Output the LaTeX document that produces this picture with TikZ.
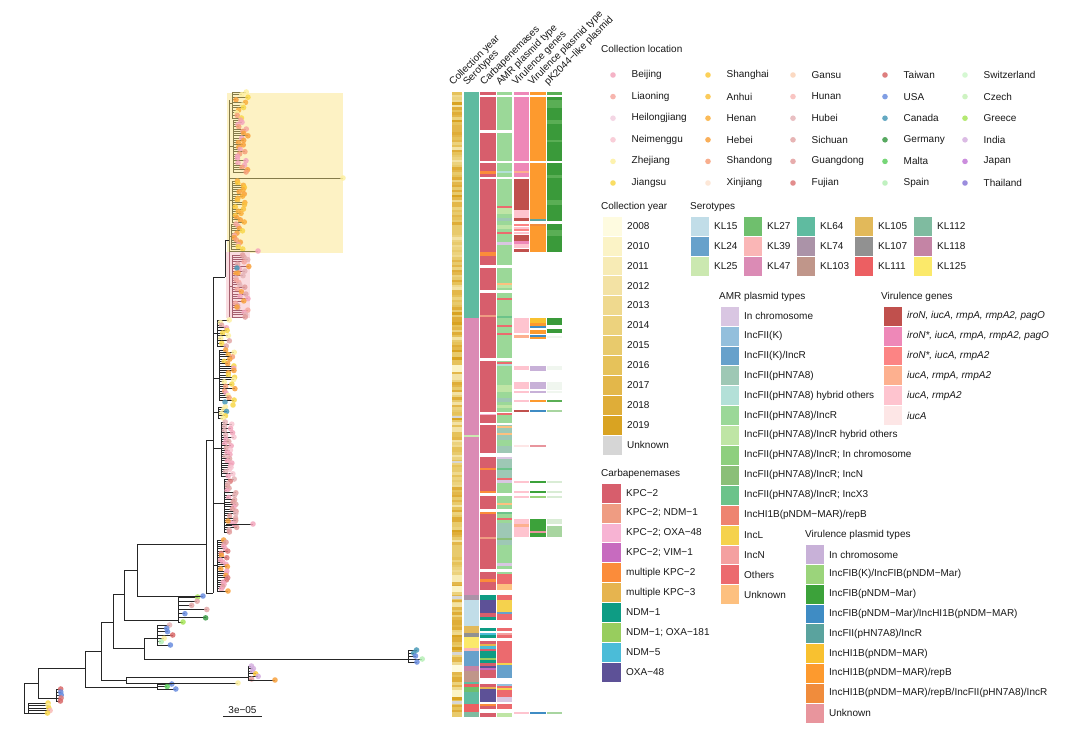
\documentclass[tikz,border=0pt]{standalone}
\usepackage{fontspec}
\setmainfont{Liberation Sans}
% location colours
\definecolor{cBeijing}{HTML}{F4A6BD}\definecolor{cLiaoning}{HTML}{F6A9A0}\definecolor{cHeilongjiang}{HTML}{F3CFE0}
\definecolor{cNeimenggu}{HTML}{F8C6D2}\definecolor{cZhejiang}{HTML}{FDF0A0}\definecolor{cJiangsu}{HTML}{F9D84A}
\definecolor{cShanghai}{HTML}{FCC93C}\definecolor{cAnhui}{HTML}{FBC23F}\definecolor{cHenan}{HTML}{FBB03B}
\definecolor{cHebei}{HTML}{F9A23E}\definecolor{cShandong}{HTML}{F7A07A}\definecolor{cXinjiang}{HTML}{FDE3D0}
\definecolor{cGansu}{HTML}{FBD3B8}\definecolor{cHunan}{HTML}{F9BBB8}\definecolor{cHubei}{HTML}{E6B4B8}
\definecolor{cSichuan}{HTML}{E3A8A8}\definecolor{cGuangdong}{HTML}{E39E9E}\definecolor{cFujian}{HTML}{DD7A7A}
\definecolor{cTaiwan}{HTML}{D96868}\definecolor{cUSA}{HTML}{6A8EE0}\definecolor{cCanada}{HTML}{4A9AB8}
\definecolor{cGermany}{HTML}{3A9A45}\definecolor{cMalta}{HTML}{5FCF60}\definecolor{cSpain}{HTML}{B5EFB5}
\definecolor{cSwitzerland}{HTML}{CEF7CB}\definecolor{cCzech}{HTML}{C6F2B8}\definecolor{cGreece}{HTML}{A8E65A}
\definecolor{cIndia}{HTML}{D5B0E0}\definecolor{cJapan}{HTML}{C27AD8}\definecolor{cThailand}{HTML}{8A7AD8}
% years
\definecolor{y08}{HTML}{FEFBE0}\definecolor{y10}{HTML}{FBF3C6}\definecolor{y11}{HTML}{F7EBB5}\definecolor{y12}{HTML}{F3E2A4}
\definecolor{y13}{HTML}{EFD98E}\definecolor{y14}{HTML}{ECD27D}\definecolor{y15}{HTML}{E8CA6C}\definecolor{y16}{HTML}{E6C25A}
\definecolor{y17}{HTML}{E3B74A}\definecolor{y18}{HTML}{DFAD38}\definecolor{y19}{HTML}{D9A322}\definecolor{yUn}{HTML}{D6D6D6}
% serotypes
\definecolor{s15}{HTML}{C1DDE8}\definecolor{s24}{HTML}{67A1CB}\definecolor{s25}{HTML}{CBE8B0}
\definecolor{s27}{HTML}{6FBF6D}\definecolor{s39}{HTML}{FAB6B6}\definecolor{s47}{HTML}{DB8BB5}
\definecolor{s64}{HTML}{5FBBA0}\definecolor{s74}{HTML}{AB93A8}\definecolor{s103}{HTML}{C0968A}
\definecolor{s105}{HTML}{E2B95A}\definecolor{s107}{HTML}{919191}\definecolor{s111}{HTML}{EC5F62}
\definecolor{s112}{HTML}{7FBBA0}\definecolor{s118}{HTML}{C484A5}\definecolor{s125}{HTML}{FBE96A}
% carbapenemases
\definecolor{kpc}{HTML}{D75E6C}\definecolor{kn1}{HTML}{EF9C82}\definecolor{kox}{HTML}{F7B3D3}\definecolor{kvim}{HTML}{C76BBF}
\definecolor{mk2}{HTML}{FB8C3A}\definecolor{mk3}{HTML}{E6B44F}\definecolor{ndm1}{HTML}{0E9C84}\definecolor{nox}{HTML}{98CD5E}
\definecolor{ndm5}{HTML}{4BBCD8}\definecolor{oxa}{HTML}{5D5197}
% AMR
\definecolor{aChr}{HTML}{D9C6E2}\definecolor{aK}{HTML}{93BFDC}\definecolor{aKR}{HTML}{67A1CB}\definecolor{aP}{HTML}{9EC8B5}
\definecolor{aPh}{HTML}{B3E0D8}\definecolor{aPR}{HTML}{9BD898}\definecolor{aPRh}{HTML}{BFE5A5}\definecolor{aPRc}{HTML}{8ECF7E}
\definecolor{aPRN}{HTML}{8BBF78}\definecolor{aPRX}{HTML}{6CC38A}\definecolor{aHI}{HTML}{EE8470}\definecolor{aL}{HTML}{F5D24D}
\definecolor{aN}{HTML}{F4A0A0}\definecolor{aO}{HTML}{EC6A6E}\definecolor{aU}{HTML}{FDC07F}
% virulence genes
\definecolor{vg1}{HTML}{C0504D}\definecolor{vg2}{HTML}{EE88B8}\definecolor{vg3}{HTML}{FC8484}
\definecolor{vg4}{HTML}{FDB08F}\definecolor{vg5}{HTML}{FEC4CF}\definecolor{vg6}{HTML}{FDE6E6}
% virulence plasmid types
\definecolor{vpChr}{HTML}{C8B1D8}\definecolor{vpK}{HTML}{9BD47B}\definecolor{vpFIB}{HTML}{3CA23A}
\definecolor{vpFIBHI}{HTML}{3F8CC4}\definecolor{vpFII}{HTML}{5AA39E}\definecolor{vpHI}{HTML}{F8C130}
\definecolor{vpHIrep}{HTML}{FD9A2E}\definecolor{vpHIrepFII}{HTML}{F08C3C}\definecolor{vpUnk}{HTML}{E8959D}
% pK2044
\definecolor{pk1}{HTML}{3A9A3A}\definecolor{pk2}{HTML}{5AAE55}\definecolor{pk3}{HTML}{A8D5A0}
\definecolor{pk4}{HTML}{D9ECD5}\definecolor{pk5}{HTML}{F0F6EF}
% misc
\definecolor{hlY}{HTML}{FDF2C4}\definecolor{hlP}{HTML}{FADCE0}
\definecolor{olive}{HTML}{857B4A}\definecolor{dpink}{HTML}{A5606E}

\tikzset{
  txt/.style={font=\fontsize{10}{12}\selectfont, inner sep=0pt, anchor=west, text=black!90},
  br/.style={line width=0.8pt, black!85},
  bry/.style={line width=0.8pt, olive},
  brp/.style={line width=0.8pt, dpink},
}
% tips: xbase y1 y2 n minlen range list style
\newcommand{\tips}[8]{%
  \pgfmathsetmacro\tdy{(#3-#2)/(#4-1)}%
  \draw[#8] (#1,#2) -- (#1,#3);%
  \foreach \k in {1,...,#4}{%
    \pgfmathsetmacro\yy{#2+(\k-1)*\tdy}%
    \pgfmathsetmacro\xx{#1+#5+rnd*#6}%
    \pgfmathrandomitem{\cc}{#7}%
    \draw[#8] (#1,\yy) -- (\xx,\yy);%
    \fill[fill=\cc,opacity=.85] (\xx,\yy) circle (2.8pt);%
  }%
}
\newcommand{\tipdot}[3]{\fill[fill=#3,opacity=.85] (#1,#2) circle (2.8pt);}
\newcommand{\hmcell}[5]{\fill[fill=#5] (#1,#3) rectangle (#2,#4);}
\newcommand{\hST}[3]{\hmcell{464}{479}{#1}{#2}{#3}}
\newcommand{\hCB}[3]{\hmcell{480}{496}{#1}{#2}{#3}}
\newcommand{\hAM}[3]{\hmcell{497}{512}{#1}{#2}{#3}}
\newcommand{\hVG}[3]{\hmcell{513.5}{529}{#1}{#2}{#3}}
\newcommand{\hVP}[3]{\hmcell{530}{546}{#1}{#2}{#3}}
\newcommand{\hPK}[3]{\hmcell{547}{562}{#1}{#2}{#3}}
% legend square: x ytop width colour label
\newcommand{\legsq}[5]{%
  \path[fill=#4,draw=white,line width=.5pt] (#1,#2) rectangle ++(#3,19.9);%
  \node[txt] at (#1+#3+5,#2+9.95) {#5};}

\pgfmathdeclarerandomlist{lA}{{cJiangsu}{cShandong}{cHunan}{cZhejiang}}
\pgfmathdeclarerandomlist{lB}{{cTaiwan}{cTaiwan}{cFujian}{cUSA}}
\pgfmathdeclarerandomlist{lC}{{cUSA}{cMalta}}
\pgfmathdeclarerandomlist{lD}{{cJiangsu}{cShanghai}{cIndia}{cHenan}{cGuangdong}}
\pgfmathdeclarerandomlist{lE}{{cZhejiang}{cUSA}{cTaiwan}{cSpain}{cUSA}{cHubei}{cJiangsu}}
\pgfmathdeclarerandomlist{lF}{{cCanada}{cUSA}{cSpain}{cMalta}}
\pgfmathdeclarerandomlist{lG}{{cUSA}{cMalta}{cGermany}{cGreece}{cIndia}{cSichuan}}
\pgfmathdeclarerandomlist{lY1}{{cHebei}{cJiangsu}{cHenan}{cZhejiang}{cShandong}}
\pgfmathdeclarerandomlist{lY2}{{cShandong}{cShandong}{cBeijing}{cHebei}{cLiaoning}}
\pgfmathdeclarerandomlist{lY3}{{cHenan}{cHebei}{cAnhui}{cShanghai}{cHenan}}
\pgfmathdeclarerandomlist{lY4}{{cBeijing}{cShandong}{cHebei}{cJiangsu}{cLiaoning}}
\pgfmathdeclarerandomlist{lP}{{cGuangdong}{cBeijing}{cSichuan}{cLiaoning}{cHubei}{cHebei}}
\pgfmathdeclarerandomlist{lK1}{{cZhejiang}{cJiangsu}{cSichuan}{cBeijing}}
\pgfmathdeclarerandomlist{lK2}{{cHebei}{cHenan}{cZhejiang}{cJiangsu}{cBeijing}{cShandong}}
\pgfmathdeclarerandomlist{lK3}{{cCanada}{cJiangsu}{cJapan}{cTaiwan}{cZhejiang}}
\pgfmathdeclarerandomlist{lK4}{{cBeijing}{cBeijing}{cNeimenggu}{cHubei}{cSichuan}}
\pgfmathdeclarerandomlist{lK5}{{cGuangdong}{cSichuan}{cHubei}{cBeijing}{cFujian}}
\pgfmathdeclarerandomlist{lK6}{{cFujian}{cGuangdong}{cBeijing}{cBeijing}{cHebei}}
\pgfmathdeclarerandomlist{yr}{{y13}{y14}{y15}{y15}{y16}{y16}{y17}{y17}{y18}{y18}{y19}{y14}{y13}{y12}{y16}{y17}{y15}{y18}}

\begin{document}
\begin{tikzpicture}[x=1pt,y=-1pt]
\pgfmathsetseed{4242}
\useasboundingbox (0,0) rectangle (1080,734);
\fill[white] (0,0) rectangle (1080,734);

% ---------- highlight boxes
\fill[hlY] (227,93) rectangle (343,253);
\fill[hlP] (226,252) rectangle (250,318);

% ---------- tree (outgroups)
\draw[br] (24,683) -- (24,713);
\draw[br] (24,713) -- (28,713);
\tips{28}{703}{713}{5}{18}{7}{lA}{br}
\draw[br] (24,683) -- (38,683);
\draw[br] (38,668) -- (38,698);
\draw[br] (38,698) -- (56,698);
\tips{56}{689}{701}{5}{3}{5}{lB}{br}
\draw[br] (38,668) -- (85,668);
\draw[br] (85,651) -- (85,687);
\draw[br] (85,687) -- (157,687);
\tips{157}{684}{689}{3}{10}{10}{lC}{br}
\draw[br] (85,651) -- (101,651);
\draw[br] (101,622) -- (101,680);
\draw[br] (101,680) -- (126,680);
\draw[br] (126,677) -- (126,683);
\draw[br] (126,677) -- (248,677);
\tips{248}{666}{679}{6}{3}{8}{lD}{br}
\draw[br] (248,680) -- (275,680); \tipdot{275}{680}{cHebei}
\draw[br] (126,683) -- (238,683); \tipdot{238}{683}{cZhejiang}
\draw[br] (101,622) -- (113,622);
\draw[br] (113,594) -- (113,648);
\draw[br] (113,648) -- (144,648);
\draw[br] (144,638) -- (144,659);
\draw[br] (144,638) -- (157,638);
\tips{157}{625}{645}{7}{3}{14}{lE}{br}
\draw[br] (144,659) -- (408,659);
\tips{408}{650}{662}{5}{5}{12}{lF}{br}
\draw[br] (113,594) -- (124,594);
\draw[br] (124,570) -- (124,620);
\draw[br] (124,620) -- (178,620);
\tips{178}{597}{622}{7}{5}{25}{lG}{br}
\draw[br] (124,570) -- (137,570);
\draw[br] (137,544) -- (137,596);
\draw[br] (137,596) -- (203,596); \tipdot{203}{596}{cUSA}
\draw[br] (137,544) -- (206,544);
% ---------- main clade
\draw[br] (206,440) -- (206,593);
\draw[br] (206,593) -- (213,593);
\draw[br] (206,440) -- (213,440);
\draw[br] (213,277) -- (213,593);
\draw[br] (213,277) -- (225,277);
\draw[br] (225,240) -- (225,277);
\draw[br] (225,240) -- (229,240);
\draw[bry] (229,100) -- (229,251);
\draw[brp] (229,251) -- (229,317);
% yellow clade
\draw[bry] (229,103) -- (232,103); \tips{232}{92}{118}{11}{4}{12}{lY1}{bry}
\draw[bry] (229,146) -- (233,146); \tips{233}{120}{172}{24}{3}{12}{lY2}{bry}
\draw[bry] (229,178) -- (343,178); \tipdot{343}{178}{cZhejiang}
\draw[bry] (229,200) -- (232,200); \tips{232}{181}{222}{20}{3}{10}{lY3}{bry}
\draw[bry] (229,236) -- (231,236); \tips{231}{224}{249}{12}{3}{10}{lY4}{bry}
\draw[bry] (229,251) -- (258,251); \tipdot{258}{251}{cBeijing}
% pink clade
\draw[brp] (229,286) -- (232,286); \tips{232}{255}{317}{28}{3}{14}{lP}{brp}
\tipdot{237}{268}{cCanada}\tipdot{238}{273}{cHebei}\tipdot{237}{307}{cHebei}
% black part
\draw[br] (213,333) -- (217,333); \tips{217}{320}{346}{11}{3}{10}{lK1}{br}
\draw[br] (213,378) -- (219,378); \tips{219}{350}{400}{23}{3}{13}{lK2}{br}
\tipdot{225}{402}{cCanada}\tipdot{233}{405}{cJiangsu}
\draw[br] (213,412) -- (218,412); \tips{218}{407}{418}{6}{3}{8}{lK3}{br}
\draw[br] (213,448) -- (221,448); \tips{221}{422}{476}{26}{3}{10}{lK4}{br}
\draw[br] (213,503) -- (224,503); \tips{224}{479}{532}{24}{3}{10}{lK5}{br}
\draw[br] (226,524) -- (253,524); \tipdot{253}{524}{cBeijing}\tipdot{228}{521}{cHebei}
\draw[br] (213,565) -- (217,565); \tips{217}{540}{591}{24}{3}{8}{lK6}{br}
% scale bar
\draw[br] (223,716.5) -- (262,716.5);
\node[txt,anchor=base] (scale) at (242.5,713.5) {3e−05};

% ---------- heatmap: collection year
\foreach \r in {0,...,249}{%
  \pgfmathsetmacro\ya{92+\r*2.5}%
  \pgfmathrandomitem{\cc}{yr}%
  \fill[fill=\cc] (452,\ya) rectangle (462,\ya+2.5);}
\fill[y10] (452,365) rectangle (462,372);\fill[y12] (452,374) rectangle (462,380);
\fill[yUn] (452,416) rectangle (462,418);\fill[yUn] (452,461) rectangle (462,463);
\fill[y11] (452,575) rectangle (462,582);\fill[y10] (452,586) rectangle (462,592);
\fill[yUn] (452,596) rectangle (462,599);\fill[y12] (452,603) rectangle (462,607);
\fill[yUn] (452,652) rectangle (462,655);\fill[y08] (452,665) rectangle (462,672);
\fill[y10] (452,690) rectangle (462,697);\fill[yUn] (452,701) rectangle (462,704);
% serotypes
\hST{92}{318}{s64}\hST{318}{595}{s47}\hST{435}{437}{s25}\hST{595}{600}{s74}\hST{600}{626}{s15}
\hST{626}{633}{s105}\hST{633}{637}{s107}\hST{637}{648}{s125}\hST{648}{651}{s39}\hST{651}{666}{s24}
\hST{666}{671}{s118}\hST{671}{682}{s103}\hST{682}{684}{s64}\hST{684}{687}{s111}\hST{687}{692}{s27}
\hST{692}{704}{s64}\hST{704}{712}{s111}\hST{712}{717}{s112}
% carbapenemases
\hCB{92}{95}{kpc}\hCB{97}{130}{kpc}\hCB{133}{161}{kpc}
\hCB{163}{177}{kpc}\hCB{171}{173.5}{mk2}
\hCB{179}{265}{kpc}\hCB{252}{256}{mk2}
\hCB{268}{290}{kpc}
\hCB{293}{358}{kpc}\hCB{315}{317}{kn1}
\hCB{361}{412}{kpc}
\hCB{413.5}{415}{kox}\hCB{415}{423}{kpc}
\hCB{425}{453}{kpc}
\hCB{457}{493}{kpc}\hCB{468}{470}{mk2}\hCB{491}{493}{mk2}
\hCB{496}{509}{kpc}
\hCB{512}{569}{kpc}\hCB{512}{514}{mk2}\hCB{537}{539}{kn1}
\hCB{572}{590}{kpc}\hCB{579}{582}{mk2}
\hCB{595}{600}{ndm1}\hCB{600}{613}{oxa}\hCB{613}{617}{kpc}\hCB{617}{620}{ndm1}
\hCB{628}{631}{ndm1}
\hCB{633}{635}{ndm5}\hCB{635}{638}{ndm1}
\hCB{641}{644}{kpc}\hCB{644}{646}{mk3}\hCB{646}{649}{ndm5}\hCB{649}{651}{kpc}\hCB{651}{658}{ndm1}
\hCB{658}{660}{nox}\hCB{660}{663}{ndm1}\hCB{663}{666}{kpc}\hCB{666}{668}{oxa}\hCB{668}{670}{kvim}\hCB{670}{678}{kpc}
\hCB{684}{687}{kpc}\hCB{687}{689}{mk3}\hCB{689}{702}{oxa}\hCB{704}{706}{mk2}\hCB{706}{709}{kpc}
\hCB{713}{717}{kpc}
% AMR plasmid type
\hAM{92}{95}{aPR}\hAM{97}{130}{aPR}\hAM{133}{161}{aPR}
\hAM{163}{177}{aPR}\hAM{171}{173}{aPh}
\hAM{179}{265}{aPR}\hAM{206}{208}{aO}\hAM{208}{214}{aPRh}\hAM{218}{221}{aP}\hAM{225}{229}{aPRh}\hAM{232}{234}{aO}\hAM{242}{245}{aChr}
\hAM{268}{290}{aPR}\hAM{283}{285}{aU}\hAM{285}{288}{aPRh}
\hAM{293}{358}{aPR}\hAM{298}{300}{aO}\hAM{316}{318}{aPRX}\hAM{325}{327}{aO}\hAM{333}{335}{aO}
\hAM{361}{412}{aPR}\hAM{362}{364}{aO}\hAM{364}{366}{aPh}\hAM{385}{392}{aPRh}\hAM{398}{402}{aP}\hAM{405}{408}{aPRh}
\hAM{413}{415}{aO}\hAM{415}{423}{aPR}
\hAM{425}{453}{aP}\hAM{426}{428}{aU}\hAM{433}{435}{aU}\hAM{440}{446}{aPR}
\hAM{457}{493}{aP}\hAM{457}{459}{aChr}\hAM{468}{470}{aPRX}\hAM{478}{480}{aO}\hAM{480}{483}{aChr}\hAM{483}{493}{aPR}
\hAM{496}{509}{aPR}\hAM{503}{505}{aU}
\hAM{512}{569}{aPR}\hAM{512}{514}{aPRX}\hAM{518}{520}{aO}\hAM{523}{545}{aP}\hAM{538}{540}{aPRN}\hAM{563}{566}{aChr}
\hAM{572}{590}{aO}\hAM{584}{590}{aU}\hAM{572}{574}{aPR}
\hAM{595}{600}{aO}\hAM{600}{612}{aL}\hAM{612}{614}{aKR}\hAM{614}{620}{aO}
\hAM{628}{631}{aO}
\hAM{633}{635}{aN}\hAM{635}{638}{aO}
\hAM{641}{663}{aO}\hAM{663}{665}{aL}\hAM{665}{678}{aKR}
\hAM{684}{686}{aK}\hAM{686}{688}{aO}\hAM{688}{690}{aL}\hAM{690}{697}{aO}\hAM{697}{702}{aChr}
\hAM{704}{709}{aO}
\hAM{713}{717}{aPRh}
% virulence genes
\hVG{92}{95}{vg2}\hVG{97}{161}{vg2}
\hVG{163}{177}{vg2}\hVG{171}{173}{vg4}
\hVG{179}{210}{vg1}\hVG{210}{218}{vg5}\hVG{218}{221}{vg1}
\hVG{224}{226}{vg3}\hVG{227}{229}{vg5}\hVG{229}{231}{vg3}\hVG{232}{234}{vg5}\hVG{235}{241}{vg1}
\hVG{241}{244}{vg2}\hVG{244}{248}{vg5}\hVG{249}{252}{vg1}
\hVG{318}{333}{vg5}\hVG{335}{338}{vg4}
\hVG{366}{370}{vg5}\hVG{382}{389}{vg5}\hVG{391}{393}{vg5}\hVG{400}{402}{vg5}\hVG{410}{412}{vg1}
\hVG{445}{447}{vg6}\hVG{481}{483}{vg5}\hVG{491}{493}{vg5}\hVG{496}{498}{vg5}
\hVG{519}{537}{vg5}\hVG{524}{527}{vg4}
\hVG{712}{714}{vg5}
% virulence plasmid type
\hVP{92}{95}{vpHIrep}\hVP{97}{161}{vpHIrep}
\hVP{163}{219}{vpHIrep}\hVP{219}{221}{vpFII}
\hVP{224}{252}{vpHIrep}\hVP{224}{226}{vpHIrepFII}
\hVP{318}{323}{vpHI}\hVP{323}{326}{vpHIrep}\hVP{326}{328}{vpFIBHI}\hVP{330}{334}{vpHIrep}\hVP{335}{337}{vpFIBHI}\hVP{337}{339}{vpHIrep}
\hVP{366}{371}{vpChr}\hVP{382}{389}{vpChr}\hVP{391}{393}{vpChr}\hVP{400}{402}{vpHIrep}\hVP{410}{412}{vpFIBHI}
\hVP{445}{447}{vpUnk}\hVP{481}{483}{vpFIB}\hVP{491}{493}{vpFIB}\hVP{496}{498}{vpK}
\hVP{519}{537}{vpFIB}\hVP{531}{533}{vpUnk}
\hVP{712}{714}{vpFIBHI}
% pK2044-like plasmid
\hPK{92}{95}{pk2}
\hPK{97}{161}{pk1}\hPK{100}{108}{pk2}\hPK{120}{124}{pk2}\hPK{140}{142}{pk2}
\hPK{163}{221}{pk1}\hPK{175}{178}{pk2}\hPK{200}{205}{pk2}
\hPK{224}{252}{pk1}\hPK{230}{236}{pk2}
\hPK{318}{325}{pk1}\hPK{329}{333}{pk1}\hPK{336}{338}{pk5}
\hPK{366}{370}{pk5}\hPK{382}{390}{pk5}\hPK{391}{393}{pk5}\hPK{400}{402}{pk2}\hPK{410}{412}{pk3}
\hPK{481}{483}{pk4}\hPK{491}{493}{pk4}\hPK{496}{498}{pk4}
\hPK{519}{524}{pk4}\hPK{526}{537}{pk3}
\hPK{712}{714}{pk3}

% ---------- column headers
\foreach \x/\lab [count=\i] in {453/Collection year,467/Serotypes,484/Carbapenemases,500/AMR plasmid type,516/Virulence genes,532/Virulence plasmid type,548/pK2044−like plasmid}
  \node[txt,rotate=45,anchor=base west] (hd\i) at (\x,86) {\lab};

% ---------- legend: collection location
\node[txt] (tLoc) at (601,49) {Collection location};
\foreach \nm [count=\i from 0] in {Beijing,Liaoning,Heilongjiang,Neimenggu,Zhejiang,Jiangsu,Shanghai,Anhui,Henan,Hebei,Shandong,Xinjiang,Gansu,Hunan,Hubei,Sichuan,Guangdong,Fujian,Taiwan,USA,Canada,Germany,Malta,Spain,Switzerland,Czech,Greece,India,Japan,Thailand}{%
  \pgfmathtruncatemacro\cl{int(\i/6)}%
  \pgfmathtruncatemacro\rw{mod(\i,6)}%
  \pgfmathsetmacro\dx{{613,708,793,885,965}[\cl]}%
  \pgfmathsetmacro\ty{75+\rw*21.6}%
  \fill[fill=c\nm,opacity=.85] (\dx,\ty) circle (2.8pt);%
  \node[txt] (loc\i) at (\dx+18.5,\ty) {\nm};}

% ---------- legend: collection year
\node[txt] (tYear) at (601,207) {Collection year};
\legsq{602}{216.0}{20}{y08}{2008}
\legsq{602}{235.9}{20}{y10}{2010}
\legsq{602}{255.8}{20}{y11}{2011}
\legsq{602}{275.7}{20}{y12}{2012}
\legsq{602}{295.6}{20}{y13}{2013}
\legsq{602}{315.5}{20}{y14}{2014}
\legsq{602}{335.4}{20}{y15}{2015}
\legsq{602}{355.3}{20}{y16}{2016}
\legsq{602}{375.2}{20}{y17}{2017}
\legsq{602}{395.1}{20}{y18}{2018}
\legsq{602}{415.0}{20}{y19}{2019}
\legsq{602}{434.9}{20}{yUn}{Unknown}

% ---------- legend: serotypes
\node[txt] (tSero) at (690,207) {Serotypes};
\legsq{690}{216.5}{19}{s15}{KL15}\legsq{690}{236.4}{19}{s24}{KL24}\legsq{690}{256.3}{19}{s25}{KL25}
\legsq{743}{216.5}{19}{s27}{KL27}\legsq{743}{236.4}{19}{s39}{KL39}\legsq{743}{256.3}{19}{s47}{KL47}
\legsq{796}{216.5}{19}{s64}{KL64}\legsq{796}{236.4}{19}{s74}{KL74}\legsq{796}{256.3}{19}{s103}{KL103}
\legsq{854}{216.5}{19}{s105}{KL105}\legsq{854}{236.4}{19}{s107}{KL107}\legsq{854}{256.3}{19}{s111}{KL111}
\legsq{913}{216.5}{19}{s112}{KL112}\legsq{913}{236.4}{19}{s118}{KL118}\legsq{913}{256.3}{19}{s125}{KL125}

% ---------- legend: AMR plasmid types
\node[txt] (tAMR) at (719,297) {AMR plasmid types};
\legsq{720}{306.0}{19}{aChr}{In chromosome}
\legsq{720}{325.9}{19}{aK}{IncFII(K)}
\legsq{720}{345.8}{19}{aKR}{IncFII(K)/IncR}
\legsq{720}{365.7}{19}{aP}{IncFII(pHN7A8)}
\legsq{720}{385.6}{19}{aPh}{IncFII(pHN7A8) hybrid others}
\legsq{720}{405.5}{19}{aPR}{IncFII(pHN7A8)/IncR}
\legsq{720}{425.4}{19}{aPRh}{IncFII(pHN7A8)/IncR hybrid others}
\legsq{720}{445.3}{19}{aPRc}{IncFII(pHN7A8)/IncR; In chromosome}
\legsq{720}{465.2}{19}{aPRN}{IncFII(pHN7A8)/IncR; IncN}
\legsq{720}{485.1}{19}{aPRX}{IncFII(pHN7A8)/IncR; IncX3}
\legsq{720}{505.0}{19}{aHI}{IncHI1B(pNDM−MAR)/repB}
\legsq{720}{524.9}{19}{aL}{IncL}
\legsq{720}{544.8}{19}{aN}{IncN}
\legsq{720}{564.7}{19}{aO}{Others}
\legsq{720}{584.6}{19}{aU}{Unknown}

% ---------- legend: virulence genes
\node[txt] (tVG) at (881,297) {Virulence genes};
\legsq{883}{306.0}{19}{vg1}{\itshape iroN, iucA, rmpA, rmpA2, pagO}
\legsq{883}{325.9}{19}{vg2}{\itshape iroN*, iucA, rmpA, rmpA2, pagO}
\legsq{883}{345.8}{19}{vg3}{\itshape iroN*, iucA, rmpA2}
\legsq{883}{365.7}{19}{vg4}{\itshape iucA, rmpA, rmpA2}
\legsq{883}{385.6}{19}{vg5}{\itshape iucA, rmpA2}
\legsq{883}{405.5}{19}{vg6}{\itshape iucA}

% ---------- legend: carbapenemases
\node[txt] (tCarb) at (601,474) {Carbapenemases};
\legsq{601}{483.0}{20}{kpc}{KPC−2}
\legsq{601}{502.9}{20}{kn1}{KPC−2; NDM−1}
\legsq{601}{522.8}{20}{kox}{KPC−2; OXA−48}
\legsq{601}{542.7}{20}{kvim}{KPC−2; VIM−1}
\legsq{601}{562.6}{20}{mk2}{multiple KPC−2}
\legsq{601}{582.5}{20}{mk3}{multiple KPC−3}
\legsq{601}{602.4}{20}{ndm1}{NDM−1}
\legsq{601}{622.3}{20}{nox}{NDM−1; OXA−181}
\legsq{601}{642.2}{20}{ndm5}{NDM−5}
\legsq{601}{662.1}{20}{oxa}{OXA−48}

% ---------- legend: virulence plasmid types
\node[txt] (tVP) at (805,535) {Virulence plasmid types};
\legsq{805}{544.5}{19}{vpChr}{In chromosome}
\legsq{805}{564.3}{19}{vpK}{IncFIB(K)/IncFIB(pNDM−Mar)}
\legsq{805}{584.1}{19}{vpFIB}{IncFIB(pNDM−Mar)}
\legsq{805}{603.9}{19}{vpFIBHI}{IncFIB(pNDM−Mar)/IncHI1B(pNDM−MAR)}
\legsq{805}{623.7}{19}{vpFII}{IncFII(pHN7A8)/IncR}
\legsq{805}{643.5}{19}{vpHI}{IncHI1B(pNDM−MAR)}
\legsq{805}{663.3}{19}{vpHIrep}{IncHI1B(pNDM−MAR)/repB}
\legsq{805}{683.1}{19}{vpHIrepFII}{IncHI1B(pNDM−MAR)/repB/IncFII(pHN7A8)/IncR}
\legsq{805}{702.9}{19}{vpUnk}{Unknown}
\end{tikzpicture}
\end{document}
